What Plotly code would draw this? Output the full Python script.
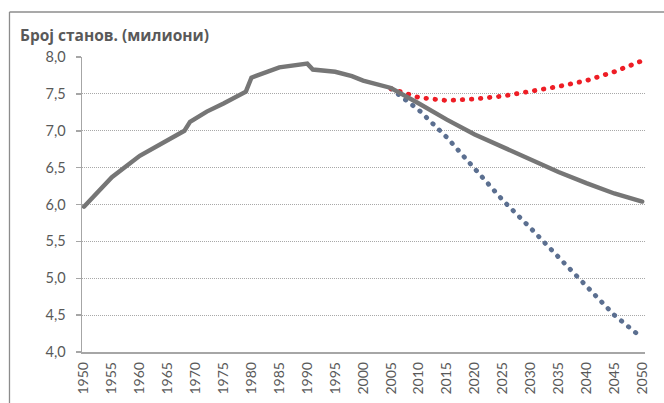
import plotly.graph_objects as go

# Historical + medium projection (gray solid)
hist_years = [1950, 1955, 1960, 1965, 1968, 1969, 1972, 1975, 1979, 1980, 1985, 1990, 1991, 1995, 1998, 2000, 2005,
              2010, 2015, 2020, 2025, 2030, 2035, 2040, 2045, 2050]
hist_vals = [5.97, 6.37, 6.66, 6.87, 7.00, 7.12, 7.26, 7.37, 7.53, 7.72, 7.86, 7.91, 7.83, 7.80, 7.74, 7.68, 7.58,
             7.37, 7.15, 6.95, 6.78, 6.61, 6.44, 6.29, 6.15, 6.04]

# Low projection (blue dotted)
proj_years = [2005, 2010, 2015, 2020, 2025, 2030, 2035, 2040, 2045, 2050]
low_vals = [7.57, 7.28, 6.91, 6.48, 6.06, 5.68, 5.28, 4.89, 4.50, 4.19]
# High projection (red dotted)
high_vals = [7.57, 7.45, 7.41, 7.43, 7.47, 7.53, 7.60, 7.68, 7.80, 7.95]

x_ticks = list(range(1950, 2051, 5))
y_ticks = [4.0, 4.5, 5.0, 5.5, 6.0, 6.5, 7.0, 7.5, 8.0]
title_text = "Број станов. (милиони)"

TXT = "#595959"
FONT = "Lato, Open Sans, sans-serif"

fig = go.Figure()
fig.add_trace(go.Scatter(x=proj_years, y=low_vals, mode="lines",
                         line=dict(color="#5b6f90", width=4.8, dash="0.5px,8.6px"),
                         hoverinfo="skip", showlegend=False))
fig.add_trace(go.Scatter(x=proj_years, y=high_vals, mode="lines",
                         line=dict(color="#ee1d25", width=4.8, dash="0.5px,8.6px"),
                         hoverinfo="skip", showlegend=False))
fig.add_trace(go.Scatter(x=hist_years, y=hist_vals, mode="lines",
                         line=dict(color="#767676", width=4.4),
                         hoverinfo="skip", showlegend=False))

fig.update_layout(
    width=664, height=403,
    margin=dict(l=82, r=19, t=57, b=51),
    paper_bgcolor="white", plot_bgcolor="white",
    separators=",.",
    font=dict(family=FONT, color=TXT),
    hovermode=False,
    xaxis=dict(range=[1949.65, 2050.5], tickvals=x_ticks, ticktext=[str(v) for v in x_ticks],
               tickangle=-90, tickfont=dict(size=14, color=TXT), showgrid=False,
               showline=True, linecolor="#a6a6a6", linewidth=1.5, ticks="", zeroline=False,
               fixedrange=True, automargin=False, ticklabelstandoff=3),
    yaxis=dict(range=[4, 8], tickvals=y_ticks, tickformat=".1f",
               tickfont=dict(size=14.5, color=TXT), showgrid=True, gridcolor="#a8a8a8",
               griddash="1px,1px", gridwidth=1, showline=True, linecolor="#a6a6a6", linewidth=1.5,
               ticks="outside", ticklen=5, tickcolor="#a6a6a6", tickwidth=1.5, zeroline=False,
               fixedrange=True, automargin=False, ticklabelstandoff=7),
    annotations=[dict(text="<b>" + title_text + "</b>", xref="paper", yref="paper",
                      x=-0.114, y=1.0, yshift=22, xanchor="left", yanchor="middle",
                      showarrow=False, font=dict(size=15.5, color=TXT, family="Open Sans, sans-serif"))],
    shapes=[
        dict(type="line", xref="paper", yref="paper", x0=-0.1288, x1=1.2, y0=1.1525, y1=1.1525,
             line=dict(color="#8c8c8c", width=1.3)),
        dict(type="line", xref="paper", yref="paper", x0=-0.1288, x1=-0.1288, y0=1.1525, y1=-0.3,
             line=dict(color="#8c8c8c", width=1.3)),
    ],
)

post = """
var s=document.createElement('style');
s.innerHTML='.scatterlayer path.js-line{stroke-linecap:round;} body{margin:0 !important;}';
document.head.appendChild(s);
"""
fig.write_html("out.html", post_script=post, config={"displayModeBar": False, "staticPlot": True})
